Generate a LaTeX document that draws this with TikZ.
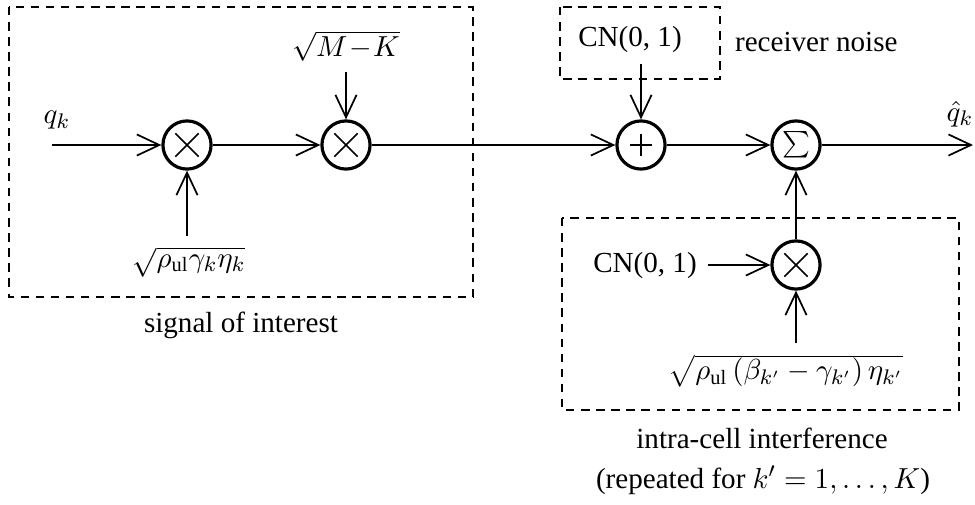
\documentclass[tikz,border=0pt]{standalone}
\usepackage{fontspec}
\setmainfont{Liberation Serif}
\usetikzlibrary{arrows.meta}

\begin{document}
\begin{tikzpicture}[
        x=0.378pt,y=-0.378pt,
        every node/.style={font=\fontsize{11}{13}\selectfont},
        op/.style={circle,draw,line width=1.2pt,minimum size=18.2pt,inner sep=0pt},
        mult/.style={op,path picture={\draw[line width=0.6pt]
          ([xshift=-4.4pt,yshift=-4.4pt]path picture bounding box.center) -- ([xshift=4.4pt,yshift=4.4pt]path picture bounding box.center)
          ([xshift=-4.4pt,yshift=4.4pt]path picture bounding box.center) -- ([xshift=4.4pt,yshift=-4.4pt]path picture bounding box.center);}},
        add/.style={op,path picture={\draw[line width=0.6pt]
          ([xshift=-4.2pt]path picture bounding box.center) -- ([xshift=4.2pt]path picture bounding box.center)
          ([yshift=-4.2pt]path picture bounding box.center) -- ([yshift=4.2pt]path picture bounding box.center);}},
        arrow/.style={-{Straight Barb[length=8.5pt,width=8pt]},line width=0.65pt},
        group/.style={line width=0.75pt,dash pattern=on 3.2pt off 2.5pt},
        lbl/.style={inner sep=4pt}
      ]
        \useasboundingbox (0,0) rectangle (975,505);
        \draw[group] (9,7) rectangle (473,297);
        \draw[group] (560,7) rectangle (720,79);
        \draw[group] (562,218) rectangle (959,410);
        \coordinate (in) at (52,145);
        \node[lbl] (qk) at (57,120) {$q_k$};
        \node[mult] (m1) at (187,145) {};
        \node[mult] (m2) at (346,145) {};
        \node[lbl] (gain) at (189,262) {$\sqrt{\rho_{\mathrm{ul}}\gamma_k\eta_k}$};
        \node[lbl] (mk) at (346,46) {$\sqrt{M\!-\!K}$};
        \node[add] (a) at (641,145) {};
        \node[lbl] (noise) at (630,40) {CN(0, 1)};
        \node[lbl,anchor=west] (rn) at (724,42) {receiver noise};
        \node[op] (s) at (796,145) {$\sum$};
        \coordinate (out) at (973,145);
        \node[lbl] (qh) at (960,114) {$\hat{q}_k$};
        \node[mult] (m3) at (796,265) {};
        \node[lbl] (cn) at (645,265) {CN(0, 1)};
        \node[lbl] (g) at (786,371) {$\sqrt{\rho_{\mathrm{ul}}\,(\beta_{k'}-\gamma_{k'})\,\eta_{k'}}$};
        \node (soi) at (241,325) {signal of interest};
        \node (ici) at (762,438) {intra-cell interference};
        \node (rep) at (763,480) {(repeated for $k'=1,\ldots,K$)};
        \draw[arrow] (in) -- (m1);
        \draw[arrow] (m1) -- (m2);
        \draw[arrow] (gain.north -| m1) -- (m1);
        \draw[arrow] (mk) -- (m2);
        \draw[arrow] (m2) -- (a);
        \draw[arrow] (noise.south -| a) -- (a);
        \draw[arrow] (a) -- (s);
        \draw[arrow] (s) -- (out);
        \draw[arrow] (cn) -- (m3);
        \draw[arrow] (g.north -| m3) -- (m3);
        \draw[arrow] (m3) -- (s);
      \end{tikzpicture}
\end{document}
